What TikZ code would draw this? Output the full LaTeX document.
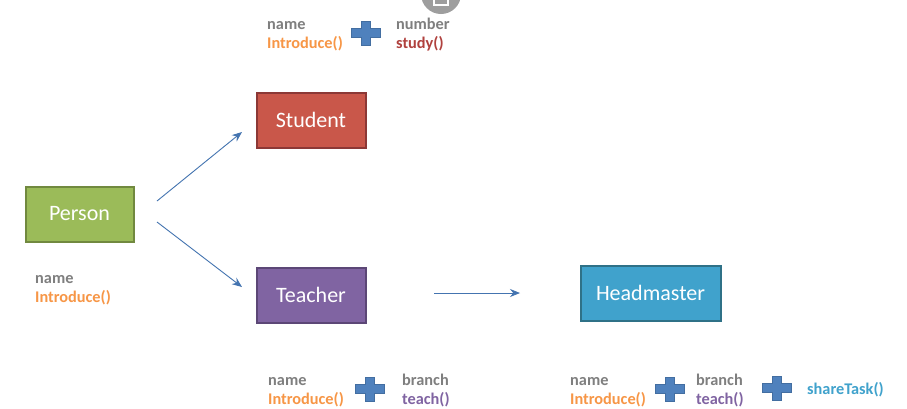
\documentclass[tikz,border=0pt]{standalone}
\usepackage{fontspec}
\setmainfont{Carlito}
\usetikzlibrary{arrows.meta}
\definecolor{cgreen}{HTML}{9BBB59}\definecolor{cgreenD}{HTML}{71893F}
\definecolor{cred}{HTML}{C9574A}\definecolor{credD}{HTML}{8C3836}
\definecolor{cpurple}{HTML}{8064A2}\definecolor{cpurpleD}{HTML}{5C4776}
\definecolor{cblue}{HTML}{40A2CC}\definecolor{cblueD}{HTML}{2F7187}
\definecolor{cline}{HTML}{4474B0}\definecolor{cgray}{HTML}{7F7F7F}
\definecolor{corange}{HTML}{F79646}\definecolor{cstudy}{HTML}{B0413E}
\definecolor{cplus}{HTML}{4F81BD}
\tikzset{
 x=1pt,y=-1pt,
 classbox/.style={draw,line width=2pt,text=white,font=\fontsize{22}{26}\selectfont,inner sep=0pt,anchor=center},
 conn/.style={draw=cline,line width=0.9pt,-{Stealth[length=10pt,width=8pt]}},
 lab/.style={font=\bfseries\fontsize{16.3}{18}\selectfont,inner sep=0pt,anchor=base west},
 plusmark/.style={fill=cplus,draw=cplus!85!black,line width=0.4pt},
}
\newcommand{\plusat}[2]{\draw[plusmark] (#1-14.5,#2-4.5) -- ++(10,0) -- ++(0,-7.5) -- ++(9,0) -- ++(0,7.5) -- ++(10,0) -- ++(0,9) -- ++(-10,0) -- ++(0,7.5) -- ++(-9,0) -- ++(0,-7.5) -- ++(-10,0) -- cycle;}
\begin{document}
\begin{tikzpicture}
\useasboundingbox (0,0) rectangle (907,408);
\fill[white] (0,0) rectangle (907,408);
\fill[black!38] (441,-6) circle (20);
\fill[white] (433,-2) rectangle (449,6);
\fill[black!38] (435,-2) rectangle (447,3.5);
% boxes
\node[classbox,fill=cgreen,draw=cgreenD,minimum width=108pt,minimum height=55pt] (person) at (79.5,214) {Person};
\node[classbox,fill=cred,draw=credD,minimum width=109pt,minimum height=55pt] (student) at (311,120.3) {Student};
\node[classbox,fill=cpurple,draw=cpurpleD,minimum width=109pt,minimum height=55pt] (teacher) at (311,295) {Teacher};
\node[classbox,fill=cblue,draw=cblueD,minimum width=140pt,minimum height=55pt] (head) at (650.5,293) {Headmaster};
% connector ends
\coordinate (p1) at (157,201);
\coordinate (s1) at (242,132);
\coordinate (p2) at (157,222);
\coordinate (t1) at (242,287);
\coordinate (t2) at (434,293);
\coordinate (h1) at (520,293);
\draw[conn] (p1) -- (s1);
\draw[conn] (p2) -- (t1);
\draw[conn] (t2) -- (h1);
% labels
\node[lab,text=cgray] (n1) at (35,283) {name};
\node[lab,text=corange] (i1) at (35,302) {Introduce()};
\node[lab,text=cgray] (n2) at (267,29) {name};
\node[lab,text=corange] (i2) at (267,48) {Introduce()};
\node[lab,text=cgray] (nb) at (396,29) {number};
\node[lab,text=cstudy] (st) at (396,48) {study()};
\node[lab,text=cgray] (n3) at (268,385) {name};
\node[lab,text=corange] (i3) at (268,404) {Introduce()};
\node[lab,text=cgray] (b3) at (402,385) {branch};
\node[lab,text=cpurple] (t3) at (402,404) {teach()};
\node[lab,text=cgray] (n4) at (570,385) {name};
\node[lab,text=corange] (i4) at (570,404) {Introduce()};
\node[lab,text=cgray] (b4) at (696,385) {branch};
\node[lab,text=cpurple] (t4) at (696,404) {teach()};
\node[lab,text=cblue] (sh) at (807,394) {shareTask()};
% plus signs
\plusat{366}{33}
\plusat{370}{389}
\plusat{670}{389}
\plusat{777}{388}
\end{tikzpicture}
\end{document}
